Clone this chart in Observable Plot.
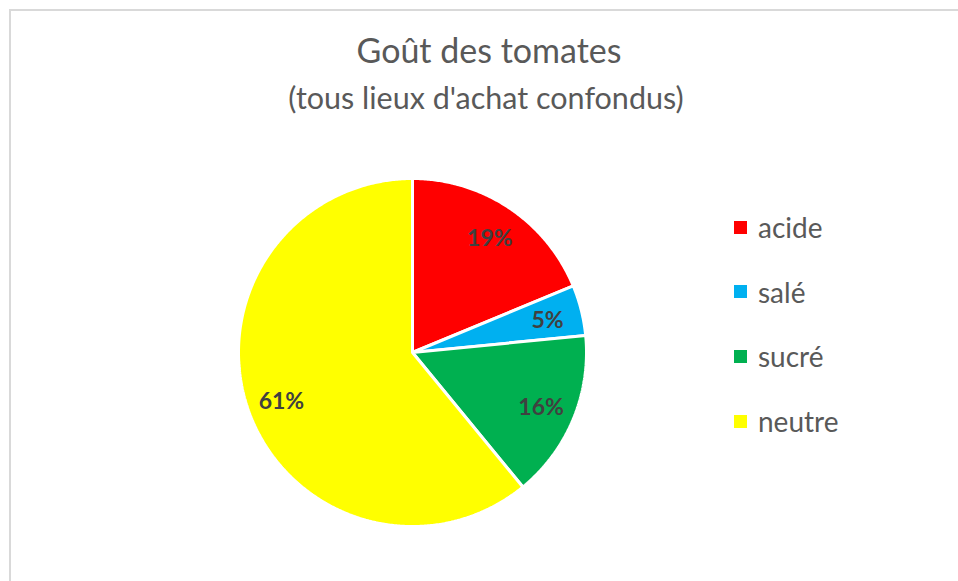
<!DOCTYPE html>
<html>
<head>
<meta charset="utf-8">
<script src="https://cdn.jsdelivr.net/npm/d3@7"></script>
<script src="https://cdn.jsdelivr.net/npm/@observablehq/plot@0.6"></script>
<style>
  html, body { margin: 0; padding: 0; background: #fff; }
  #wrap { position: relative; width: 958px; height: 581px; overflow: hidden; font-family: Lato, "Open Sans", sans-serif; }
  #frame { position: absolute; left: 9px; top: 9px; width: 1000px; height: 1000px; border-left: 2px solid #d9d9d9; border-top: 2px solid #d9d9d9; }
  #title { position: absolute; left: 0; width: 978px; top: 29px; text-align: center; color: #595959; font-size: 34px; line-height: 42px; }
  #subtitle { position: absolute; left: 0; width: 972px; top: 78px; text-align: center; color: #595959; font-size: 30.5px; line-height: 38px; }
  #chart { position: absolute; left: 0; top: 0; }
  #legend { position: absolute; left: 734px; top: 207px; }
  .item { display: flex; align-items: center; height: 40px; margin-bottom: 24.7px; color: #595959; font-size: 28px; }
  .sw { width: 13px; height: 13px; margin-right: 11px; }
</style>
</head>
<body>
<div id="wrap">
  <div id="frame"></div>
  <div id="chart"></div>
  <div id="title">Goût des tomates</div>
  <div id="subtitle">(tous lieux d'achat confondus)</div>
  <div id="legend"></div>
</div>
<script>
const categories = ["acide", "salé", "sucré", "neutre"];
const counts = [12, 3, 10, 39];
const pctLabels = ["19%", "5%", "16%", "61%"];
const colors = ["#FF0000", "#00B0F0", "#00B050", "#FFFF00"];

const W = 958, H = 581;
const cx = 412, cy = 352, R = 174;

const data = categories.map((c, i) => ({cat: c, value: counts[i], label: pctLabels[i]}));
const arcs = d3.pie().sort(null).value(d => d.value)(data);

// polygon outline points for each wedge (unit circle coordinates)
const pts = [];
for (const a of arcs) {
  pts.push({cat: a.data.cat, x: 0, y: 0});
  const n = Math.max(2, Math.ceil((a.endAngle - a.startAngle) / (Math.PI / 360)));
  for (let k = 0; k <= n; k++) {
    const t = a.startAngle + (a.endAngle - a.startAngle) * k / n;
    pts.push({cat: a.data.cat, x: Math.sin(t), y: Math.cos(t)});
  }
}
const labelPts = arcs.map(a => {
  const t = (a.startAngle + a.endAngle) / 2;
  return {label: a.data.label, x: 0.8 * Math.sin(t), y: 0.8 * Math.cos(t)};
});

const chart = Plot.plot({
  width: W, height: H,
  margin: 0,
  x: {domain: [-cx / R, (W - cx) / R], axis: null},
  y: {domain: [-(H - cy) / R, cy / R], axis: null},
  color: {domain: categories, range: colors},
  style: {background: "transparent", overflow: "visible"},
  marks: [
    Plot.line(pts, {x: "x", y: "y", z: "cat", fill: "cat", stroke: "white", strokeWidth: 3, curve: "linear-closed", strokeLinejoin: "miter"}),
    Plot.text(labelPts, {x: "x", y: "y", dy: 2, text: "label", fontSize: 23, fontWeight: "bold", fill: "#404040", fontFamily: "Lato, sans-serif"})
  ]
});
document.getElementById("chart").appendChild(chart);

const legend = document.getElementById("legend");
categories.forEach((c, i) => {
  const it = document.createElement("div");
  it.className = "item";
  const sw = document.createElement("span");
  sw.className = "sw";
  sw.style.background = colors[i];
  const tx = document.createElement("span");
  tx.textContent = c;
  it.appendChild(sw); it.appendChild(tx);
  legend.appendChild(it);
});
</script>
</body>
</html>
